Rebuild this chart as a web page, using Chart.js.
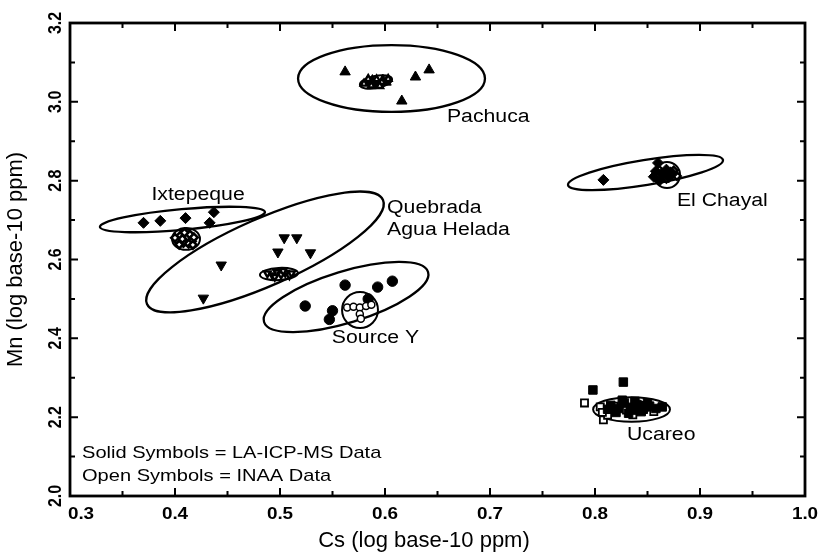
<!DOCTYPE html>
<html>
<head>
<meta charset="utf-8">
<script src="https://cdn.jsdelivr.net/npm/chart.js@4/dist/chart.umd.min.js"></script>
<style>
  html, body { margin: 0; padding: 0; background: #fff; }
  #wrap { width: 819px; height: 554px; }
</style>
</head>
<body>
<div id="wrap"><canvas id="chart"></canvas></div>
<script>
// Axis ticks (log base-10 ppm)
const xTicks = [0.3, 0.4, 0.5, 0.6, 0.7, 0.8, 0.9, 1.0];
const xTickLabels = ['0.3', '0.4', '0.5', '0.6', '0.7', '0.8', '0.9', '1.0'];
const yTicks = [2.0, 2.2, 2.4, 2.6, 2.8, 3.0, 3.2];
const yTickLabels = ['2.0', '2.2', '2.4', '2.6', '2.8', '3.0', '3.2'];

// LA-ICP-MS analyses: [Cs, Mn]
const pachucaLA = [[0.562, 3.076], [0.629, 3.063], [0.642, 3.081], [0.616, 3.002],
  [0.583, 3.050], [0.588, 3.054], [0.593, 3.047], [0.598, 3.055], [0.590, 3.043], [0.601, 3.050]];
const ixtepequeLA = [[0.370, 2.693], [0.386, 2.698], [0.410, 2.705], [0.433, 2.693], [0.437, 2.720]];
const quebradaLA = [[0.504, 2.655], [0.516, 2.655], [0.498, 2.619], [0.529, 2.617], [0.444, 2.586], [0.427, 2.502]];
const sourceYLA = [[0.562, 2.535], [0.593, 2.530], [0.607, 2.545], [0.524, 2.482], [0.550, 2.470],
  [0.547, 2.448], [0.584, 2.500]];
const elChayalLA = [[0.808, 2.802], [0.860, 2.845], [0.858, 2.824], [0.856, 2.810], [0.864, 2.818],
  [0.870, 2.808], [0.868, 2.828], [0.862, 2.802], [0.874, 2.818]];
const ucareoLA = [[0.798, 2.269], [0.827, 2.289], [0.815, 2.230], [0.822, 2.222], [0.828, 2.236],
  [0.834, 2.225], [0.840, 2.232], [0.846, 2.220], [0.852, 2.228], [0.858, 2.222], [0.820, 2.212],
  [0.832, 2.210], [0.844, 2.214], [0.826, 2.243], [0.838, 2.240], [0.850, 2.236], [0.812, 2.220],
  [0.864, 2.226], [0.836, 2.218], [0.848, 2.226]];

// INAA analyses: [Cs, Mn]
const pachucaINAA = [[0.580, 3.046], [0.584, 3.058], [0.592, 3.057], [0.597, 3.050], [0.603, 3.058],
  [0.587, 3.041], [0.595, 3.040]];
const ixtepequeINAA = [[0.402, 2.648], [0.405, 2.660], [0.408, 2.642], [0.411, 2.655], [0.414, 2.664],
  [0.416, 2.646], [0.404, 2.638], [0.413, 2.640], [0.409, 2.668], [0.418, 2.656], [0.400, 2.655],
  [0.407, 2.652], [0.417, 2.637]];
const quebradaINAA = [[0.488, 2.565], [0.493, 2.560], [0.497, 2.568], [0.501, 2.562], [0.505, 2.566],
  [0.509, 2.560], [0.495, 2.556], [0.503, 2.571], [0.511, 2.565]];
const sourceYINAA = [[0.564, 2.478], [0.570, 2.480], [0.576, 2.478], [0.582, 2.482], [0.587, 2.485],
  [0.576, 2.462], [0.577, 2.450]];
const elChayalINAA = [[0.865, 2.815], [0.872, 2.822], [0.878, 2.812], [0.868, 2.805], [0.875, 2.826],
  [0.861, 2.828]];
const ucareoINAA = [[0.790, 2.236], [0.808, 2.193], [0.805, 2.226], [0.812, 2.205], [0.830, 2.218],
  [0.842, 2.226], [0.856, 2.214], [0.818, 2.228], [0.836, 2.206], [0.848, 2.230], [0.807, 2.212]];

// Group ellipses: [centre Cs, centre Mn, major-axis end Cs, major-axis end Mn, minor/major ratio]
const sourceEllipses = [
  [0.6062, 3.0592, 0.6952, 3.0592, 0.358],   // Pachuca
  [0.4071, 2.7015, 0.4857, 2.7205, 0.125],   // Ixtepeque
  [0.4857, 2.6191, 0.5981, 2.7510, 0.26],    // Quebrada Agua Helada
  [0.5629, 2.5049, 0.6410, 2.5683, 0.30],    // Source Y
  [0.8481, 2.8208, 0.9219, 2.8525, 0.16]     // El Chayal
];
const inaaEllipses = [
  [0.5914, 3.0503, 0.6067, 3.0579, 0.38],    // Pachuca
  [0.4105, 2.6521, 0.4238, 2.6521, 0.78],    // Ixtepeque
  [0.4990, 2.5633, 0.5171, 2.5658, 0.32],    // Quebrada Agua Helada
  [0.5762, 2.4719, 0.5933, 2.4719, 1.0],     // Source Y
  [0.8686, 2.8144, 0.8810, 2.8144, 1.0],     // El Chayal
  [0.8348, 2.2196, 0.8714, 2.2196, 0.32]     // Ucareo
];

// Source name labels: [text, Cs, Mn (baseline), alignment]
const sourceLabels = [
  ['Pachuca', 0.659, 2.949, 'left'],
  ['Ixtepeque', 0.422, 2.751, 'center'],
  ['Quebrada', 0.602, 2.718, 'left'],
  ['Agua Helada', 0.602, 2.662, 'left'],
  ['Source Y', 0.591, 2.388, 'center'],
  ['El Chayal', 0.878, 2.736, 'left'],
  ['Ucareo', 0.8305, 2.142, 'left']
];
const noteLines = ['Solid Symbols = LA-ICP-MS Data', 'Open Symbols = INAA Data'];
const xTitle = 'Cs (log base-10 ppm)';
const yTitle = 'Mn (log base-10 ppm)';

const FONT = "'Liberation Sans', Arial, Helvetica, sans-serif";
const WIDE = 1.18;   // horizontal stretch of the lettering
const toXY = arr => arr.map(([x, y]) => ({ x, y }));

function solid(data, style, radius, rotation) {
  return { data: toXY(data), pointStyle: style, pointRadius: radius, rotation: rotation || 0,
    backgroundColor: '#000', borderColor: '#000', borderWidth: 1, showLine: false };
}
function open(data, style, radius, rotation, bw) {
  return { data: toXY(data), pointStyle: style, pointRadius: radius, rotation: rotation || 0,
    backgroundColor: '#fff', borderColor: '#000', borderWidth: bw || 2, showLine: false };
}

const datasets = [
  open(pachucaINAA, 'triangle', 3.8, 0, 2.4), solid(pachucaLA, 'triangle', 6),
  open(ixtepequeINAA, 'rectRot', 3.8, 0, 2.6), solid(ixtepequeLA, 'rectRot', 5.5),
  open(quebradaINAA, 'triangle', 3.8, 180, 2.4), solid(quebradaLA, 'triangle', 6, 180),
  open(sourceYINAA, 'circle', 3.5, 0, 1.5), solid(sourceYLA, 'circle', 5.2),
  solid(elChayalLA, 'rectRot', 5.5), open(elChayalINAA, 'rectRot', 3.8, 0, 2.4),
  solid(ucareoLA, 'rect', 6), open(ucareoINAA, 'rect', 5, 0, 1.8)
];

function drawEllipses(ctx, xs, ys, list, width) {
  ctx.save();
  ctx.strokeStyle = '#000';
  ctx.lineWidth = width;
  list.forEach(([cx, cy, ex, ey, ratio]) => {
    const px = xs.getPixelForValue(cx), py = ys.getPixelForValue(cy);
    const qx = xs.getPixelForValue(ex), qy = ys.getPixelForValue(ey);
    const a = Math.hypot(qx - px, qy - py);
    const ang = Math.atan2(qy - py, qx - px);
    ctx.beginPath();
    ctx.ellipse(px, py, a, a * ratio, ang, 0, Math.PI * 2);
    ctx.stroke();
  });
  ctx.restore();
}

function wideText(ctx, text, x, y, align) {
  ctx.save();
  ctx.translate(x, y);
  ctx.scale(WIDE, 1);
  ctx.textAlign = align;
  ctx.fillText(text, 0, 0);
  ctx.restore();
}

const ellipsePlugin = {
  id: 'groupEllipses',
  beforeDatasetsDraw(chart) {
    const { ctx, scales: { x, y } } = chart;
    drawEllipses(ctx, x, y, sourceEllipses, 2.3);
    drawEllipses(ctx, x, y, inaaEllipses, 2.0);
  }
};

const framePlugin = {
  id: 'frameAndText',
  afterDatasetsDraw(chart) {
    const { ctx, chartArea: a, scales: { x, y } } = chart;
    ctx.save();
    ctx.strokeStyle = '#000';
    ctx.lineWidth = 2;
    ctx.beginPath();
    // inward ticks on all four sides; majors at labelled values
    for (let i = 0; i <= 14; i++) {
      const v = 0.3 + i * 0.05;
      const len = i % 2 === 0 ? 8 : 5;
      const px = x.getPixelForValue(v);
      ctx.moveTo(px, a.bottom); ctx.lineTo(px, a.bottom - len);
      ctx.moveTo(px, a.top); ctx.lineTo(px, a.top + len);
    }
    for (let i = 0; i <= 12; i++) {
      const v = 2.0 + i * 0.1;
      const len = i % 2 === 0 ? 8 : 5;
      const py = y.getPixelForValue(v);
      ctx.moveTo(a.left, py); ctx.lineTo(a.left + len, py);
      ctx.moveTo(a.right, py); ctx.lineTo(a.right - len, py);
    }
    ctx.stroke();
    ctx.lineWidth = 2.8;
    ctx.strokeRect(a.left, a.top, a.right - a.left, a.bottom - a.top);

    ctx.fillStyle = '#000';
    ctx.textBaseline = 'alphabetic';

    // x tick labels
    ctx.font = `bold 16px ${FONT}`;
    xTicks.forEach((v, i) => {
      const px = x.getPixelForValue(v) + (i === 0 ? 11 : 0);
      wideText(ctx, xTickLabels[i], px, a.bottom + 23, 'center');
    });

    // y tick labels, rotated
    ctx.textBaseline = 'middle';
    ctx.textAlign = 'center';
    yTicks.forEach((v, i) => {
      ctx.save();
      ctx.translate(a.left - 14, y.getPixelForValue(v));
      ctx.scale(WIDE, 1);
      ctx.rotate(-Math.PI / 2);
      ctx.fillText(yTickLabels[i], 0, 0);
      ctx.restore();
    });
    ctx.textBaseline = 'alphabetic';

    // axis title along the bottom
    ctx.font = `22px ${FONT}`;
    ctx.textAlign = 'center';
    ctx.fillText(xTitle, 424, chart.height - 7);

    // source names
    ctx.font = `18px ${FONT}`;
    sourceLabels.forEach(([t, cx, cy, al]) => {
      wideText(ctx, t, x.getPixelForValue(cx), y.getPixelForValue(cy), al);
    });

    // symbol note
    ctx.font = `17px ${FONT}`;
    noteLines.forEach((t, i) => {
      wideText(ctx, t, a.left + 12, a.bottom - 38 + i * 23, 'left');
    });
    ctx.restore();
  }
};

new Chart(document.getElementById('chart'), {
  type: 'scatter',
  data: { datasets },
  options: {
    responsive: true,
    maintainAspectRatio: false,
    animation: false,
    events: [],
    layout: { padding: { top: 23, right: 14, left: 0, bottom: 0 } },
    plugins: { legend: { display: false }, tooltip: { enabled: false } },
    scales: {
      x: {
        type: 'linear', min: 0.3, max: 1.0,
        afterBuildTicks: s => { s.ticks = xTicks.map(v => ({ value: v })); },
        afterFit: s => { s.height = 58; },
        grid: { display: false },
        border: { display: false },
        ticks: { display: false }
      },
      y: {
        type: 'linear', min: 2.0, max: 3.2,
        afterBuildTicks: s => { s.ticks = yTicks.map(v => ({ value: v })); },
        afterFit: s => { s.width = 70; },
        grid: { display: false },
        border: { display: false },
        ticks: { display: false },
        title: { display: true, text: yTitle, color: '#000',
          font: { family: FONT, size: 22 }, padding: { top: 3, bottom: 0 } }
      }
    }
  },
  plugins: [ellipsePlugin, framePlugin]
});
</script>
</body>
</html>
